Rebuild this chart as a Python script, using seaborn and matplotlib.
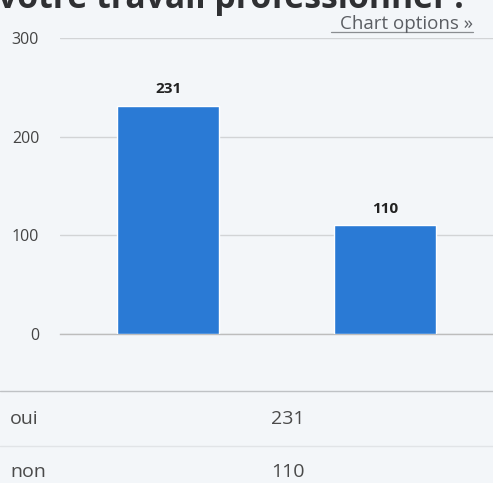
import matplotlib
matplotlib.use("Agg")
import matplotlib.pyplot as plt
import seaborn as sns
import pandas as pd
from matplotlib.lines import Line2D

categories = ["oui", "non"]
values = [231, 110]
yticks = [0, 100, 200, 300]
title = "votre travail professionnel ?"
link_text = "Chart options »"

bg = "#F3F6F9"
bar_color = "#2A7AD5"

sns.set_style("white")
plt.rcParams["font.family"] = ["Open Sans", "DejaVu Sans"]

df = pd.DataFrame({"cat": categories, "val": values})

fig = plt.figure(figsize=(4.93, 4.83), dpi=100, facecolor=bg)
ax = fig.add_axes([60 / 493, 1 - 334 / 483, 433 / 493, 296 / 483])
ax.set_facecolor(bg)

sns.barplot(data=df, x="cat", y="val", color=bar_color, width=0.47,
            saturation=1, ax=ax, zorder=3)

ax.set_xlim(-0.5, 1.5)
ax.set_ylim(0, 300)
ax.set_yticks(yticks)
ax.set_yticklabels([str(t) for t in yticks], fontsize=11.5, color="#444444")
ax.yaxis.grid(True, color="#d2d4d6", linewidth=1.0, zorder=0)
ax.set_axisbelow(True)
ax.set_xticks([-0.5, 0.5, 1.5])
ax.set_xticklabels([])
ax.tick_params(axis="x", length=7.5, color="#cccccc", width=1)
ax.tick_params(axis="y", length=0, pad=15)
ax.set_xlabel("")
ax.set_ylabel("")
for s in ["top", "right", "left"]:
    ax.spines[s].set_visible(False)
ax.spines["bottom"].set_color("#bdbdbd")
ax.spines["bottom"].set_linewidth(1.0)

for c in ax.containers:
    ax.bar_label(c, labels=[str(v) for v in values], padding=7,
                 fontsize=11, fontweight="bold", color="#222222")

# title (cut off at top in the reference)
fig.text(-0.004, 1 - 8 / 483, title, fontsize=24.3, fontweight="bold",
         color="#2f3033", ha="left", va="baseline")

# "Chart options »" link with underline
fig.text(473 / 493, 1 - 29 / 483, link_text, fontsize=13.5,
         color="#5b5e63", ha="right", va="baseline")
fig.add_artist(Line2D([331 / 493, 473 / 493], [1 - 32 / 483, 1 - 32 / 483],
                      transform=fig.transFigure, color="#8a8d91", linewidth=0.9))

# data table below chart
fig.add_artist(Line2D([0, 1], [1 - 391 / 483, 1 - 391 / 483],
                      transform=fig.transFigure, color="#bfc2c5", linewidth=1.0))
row_y = [419, 472]
for i, (cat, val) in enumerate(zip(categories, values)):
    y = 1 - row_y[i] / 483
    fig.text(10 / 493, y, cat, fontsize=14, color="#4a4a4a", ha="left", va="center")
    fig.text(271 / 493, y, str(val), fontsize=14, color="#4a4a4a", ha="left", va="center")
    if i < len(categories) - 1:
        ly = 1 - 446 / 483
        fig.add_artist(Line2D([0, 1], [ly, ly], transform=fig.transFigure,
                              color="#e1e4e7", linewidth=1.0))

fig.savefig("out.png", dpi=100, facecolor=bg)
